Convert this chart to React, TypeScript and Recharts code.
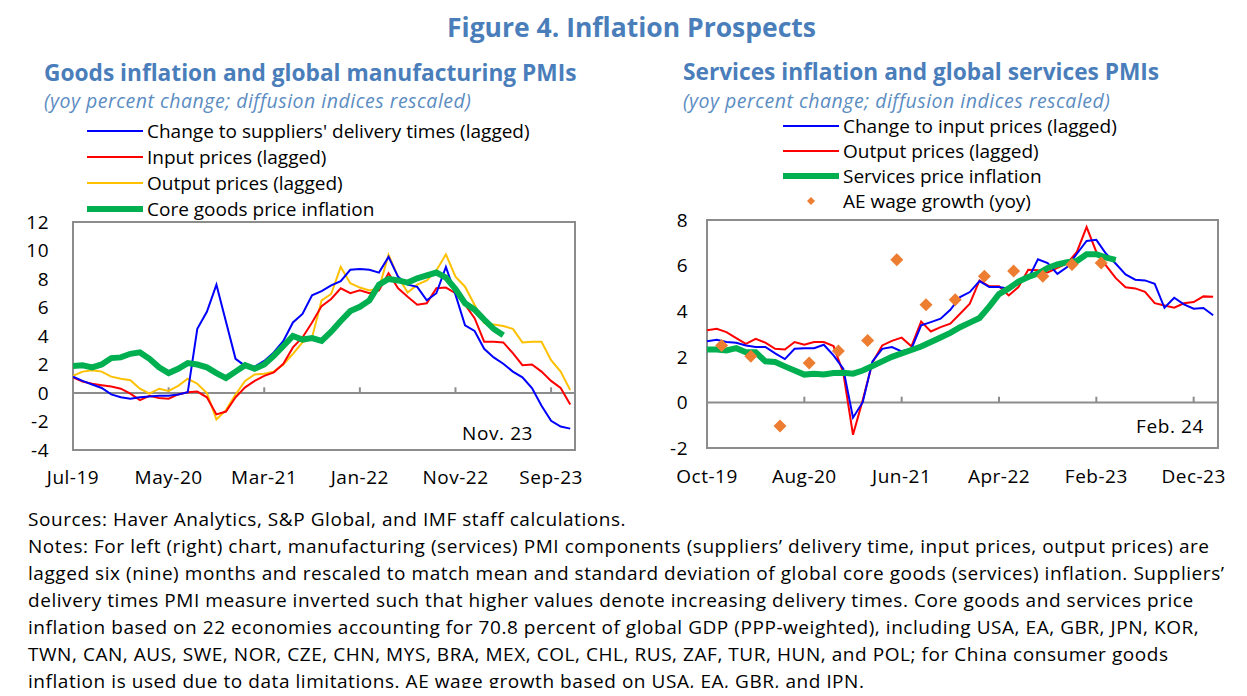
import React from 'react';
import {
    ComposedChart,
    Line,
    Scatter,
    XAxis,
    YAxis,
    ReferenceLine,
    ReferenceArea,
} from 'recharts';

// Left panel: monthly, Jul-19 .. Nov-23
const goodsTickLabels = ['Jul-19', 'May-20', 'Mar-21', 'Jan-22', 'Nov-22', 'Sep-23'];
const goodsDelivery = [
    1.15, 0.85, 0.6, 0.35, -0.1, -0.3, -0.4, -0.3, -0.25, -0.2, -0.2, -0.1, 0.05, 4.5, 5.7, 7.6, 5.0, 2.4,
    1.9, 1.85, 2.25, 2.85, 3.65, 4.95, 5.55, 6.85, 7.15, 7.55, 7.85, 8.65, 8.7, 8.65, 8.45, 9.55, 8.15,
    7.6, 7.45, 6.5, 7.0, 8.85, 6.9, 4.75, 4.35, 3.1, 2.5, 2.05, 1.5, 1.1, 0.35, -0.9, -1.95, -2.35, -2.5,
];
const goodsInput = [
    1.1, 0.8, 0.65, 0.55, 0.45, 0.3, -0.05, -0.5, -0.2, -0.35, -0.4, -0.1, 0.05, 0.1, -0.3, -1.5, -1.3, -0.3,
    0.4, 0.85, 1.2, 1.45, 2.05, 3.2, 3.9, 4.95, 6.1, 6.6, 7.35, 7.0, 7.2, 7.0, 7.2, 8.4, 7.35,
    6.75, 6.2, 6.3, 7.35, 7.4, 7.0, 6.2, 5.25, 3.6, 3.6, 3.55, 2.8, 1.95, 2.0, 1.5, 0.85, 0.35, -0.8,
];
const goodsOutput = [
    1.2, 1.5, 1.6, 1.5, 1.15, 1.0, 0.9, 0.3, -0.05, 0.3, 0.15, 0.5, 1.0, 0.65, 0.0, -1.85, -1.2, -0.1,
    0.85, 1.3, 1.35, 1.5, 2.0, 2.75, 3.55, 3.9, 6.5, 6.95, 8.85, 7.7, 7.4, 7.2, 7.35, 9.7, 8.15,
    7.05, 7.6, 7.9, 8.6, 9.73, 8.16, 7.46, 6.18, 4.9, 4.8, 4.7, 4.5, 3.55, 3.6, 3.6, 2.3, 1.5, 0.2,
];
const coreGoods = [
    1.9, 1.95, 1.8, 2.0, 2.45, 2.5, 2.75, 2.85, 2.4, 1.8, 1.4, 1.7, 2.1, 2.0, 1.8, 1.4, 1.05, 1.5,
    1.95, 1.7, 2.0, 2.6, 3.3, 4.0, 3.75, 3.85, 3.65, 4.3, 5.05, 5.75, 6.05, 6.5, 7.6, 8.0, 7.9,
    7.75, 8.05, 8.25, 8.45, 8.1, 7.3, 6.3, 5.85, 5.15, 4.5, 4.05,
];

// Right panel: monthly, Oct-19 .. Feb-24
const servicesTickLabels = ['Oct-19', 'Aug-20', 'Jun-21', 'Apr-22', 'Feb-23', 'Dec-23'];
const servicesInput = [
    2.68, 2.75, 2.65, 2.62, 2.5, 2.43, 2.43, 2.15, 1.9, 2.35, 2.38, 2.38, 2.53, 2.06, 1.48, -0.67, 0.01, 1.8,
    2.35, 2.43, 2.24, 2.35, 3.38, 3.52, 3.67, 4.06, 4.62, 4.84, 5.32, 5.06, 5.06, 4.99, 5.35, 5.42, 6.28,
    6.11, 5.64, 5.94, 6.52, 7.08, 7.13, 6.52, 6.08, 5.61, 5.38, 5.35, 5.2, 4.15, 4.59, 4.3, 4.11, 4.14, 3.82,
];
const servicesOutput = [
    3.16, 3.23, 3.08, 2.82, 2.57, 2.79, 2.62, 2.35, 2.32, 2.65, 2.53, 2.65, 2.65, 2.47, 1.3, -1.42, 0.1, 1.75,
    2.5, 2.7, 2.84, 2.46, 3.55, 3.11, 3.3, 3.45, 3.89, 4.33, 5.35, 5.09, 5.09, 4.69, 5.06, 5.82, 5.8,
    5.7, 5.9, 6.1, 6.6, 7.69, 6.6, 6.0, 5.45, 5.05, 5.0, 4.85, 4.35, 4.25, 4.15, 4.35, 4.4, 4.65, 4.63,
];
const servicesInflation = [
    2.32, 2.32, 2.28, 2.38, 2.2, 2.2, 1.8, 1.77, 1.58, 1.4, 1.22, 1.26, 1.22, 1.29, 1.3, 1.26, 1.4, 1.6,
    1.8, 2.0, 2.15, 2.3, 2.45, 2.65, 2.85, 3.05, 3.3, 3.5, 3.7, 4.2, 4.75, 5.0, 5.3, 5.5, 5.65,
    5.9, 6.05, 6.15, 6.2, 6.5, 6.5, 6.35, 6.25,
];
// quarterly, Q4-19 .. Q1-23
const wageGrowth = [2.5, 2.02, -1.04, 1.73, 2.25, 2.72, 6.26, 4.28, 4.5, 5.53, 5.76, 5.53, 6.05, 6.11];

const goodsData = goodsDelivery.map((v, i) => ({
    i,
    delivery: v,
    input: goodsInput[i],
    output: goodsOutput[i],
    core: coreGoods[i],
}));
const servicesData = servicesInput.map((v, i) => ({
    i,
    input: v,
    output: servicesOutput[i],
    services: servicesInflation[i],
}));
// plotted at mid-quarter (months since Oct-19)
const wageData = wageGrowth.map((w, k) => ({ i: 3 * k + 1.5, wage: w }));

const tickIdx = [0, 10, 20, 30, 40, 50];
const FONT = '"Open Sans", "Noto Sans", sans-serif';
const BOX = '#8c8c8c';
const TITLE = '#4a7ebb';
const SUB = '#5b8cc2';

const Diamond = (props: any) => {
    const { cx, cy } = props;
    const r = 6.5;
    return <polygon points={`${cx},${cy - r} ${cx + r},${cy} ${cx},${cy + r} ${cx - r},${cy}`} fill="#ed7d31" />;
};

const abs = (left: number, top: number, extra: React.CSSProperties = {}): React.CSSProperties => ({
    position: 'absolute',
    left,
    top,
    whiteSpace: 'nowrap',
    ...extra,
});

const LegendRow = ({ x, y, color, width, text, diamond }: any) => (
    <div style={abs(x, y - 13, { height: 26, display: 'flex', alignItems: 'center', fontSize: 19, lineHeight: '26px' })}>
        <svg width={56} height={26} style={{ marginRight: 4 }}>
            {diamond ? (
                <polygon points="28,9 32,13 28,17 24,13" fill="#ed7d31" />
            ) : (
                <line x1={0} y1={13} x2={56} y2={13} stroke={color} strokeWidth={width} strokeLinecap={width > 3 ? 'round' : 'butt'} />
            )}
        </svg>
        <span>{text}</span>
    </div>
);

const notes = [
    'Notes: For left (right) chart, manufacturing (services) PMI components (suppliers\u2019 delivery time, input prices, output prices) are',
    'lagged six (nine) months and rescaled to match mean and standard deviation of global core goods (services) inflation. Suppliers\u2019',
    'delivery times PMI measure inverted such that higher values denote increasing delivery times. Core goods and services price',
    'inflation based on 22 economies accounting for 70.8 percent of global GDP (PPP-weighted), including USA, EA, GBR, JPN, KOR,',
    'TWN, CAN, AUS, SWE, NOR, CZE, CHN, MYS, BRA, MEX, COL, CHL, RUS, ZAF, TUR, HUN, and POL; for China consumer goods',
    'inflation is used due to data limitations. AE wage growth based on USA, EA, GBR, and JPN.',
];

const tickStyle = { fill: '#000', fontSize: 19, fontFamily: FONT, letterSpacing: 0.5 };
const noteStyle: React.CSSProperties = { fontSize: 19, letterSpacing: 0.55, lineHeight: '26px' };

const App: React.FC = () => {
    return (
        <div style={{ position: 'relative', width: 1247, height: 696, margin: -8, overflow: 'hidden', background: '#fff', fontFamily: FONT, color: '#000' }}>
            <div style={abs(6, 5, { width: 1260, height: 720, border: '2px solid #000' })} />

            <div style={abs(447, 10, { fontSize: 26.5, fontWeight: 700, color: TITLE, lineHeight: '34px' })}>
                Figure 4. Inflation Prospects
            </div>

            <div style={abs(44, 58, { fontSize: 22.7, fontWeight: 700, color: TITLE, lineHeight: '30px' })}>
                Goods inflation and global manufacturing PMIs
            </div>
            <div style={abs(44, 88, { fontSize: 19.5, fontStyle: 'italic', color: SUB, lineHeight: '26px', letterSpacing: 0.5 })}>
                (yoy percent change; diffusion indices rescaled)
            </div>
            <div style={abs(683, 57, { fontSize: 22.7, fontWeight: 700, color: TITLE, lineHeight: '30px' })}>
                Services inflation and global services PMIs
            </div>
            <div style={abs(683, 88, { fontSize: 19.5, fontStyle: 'italic', color: SUB, lineHeight: '26px', letterSpacing: 0.5 })}>
                (yoy percent change; diffusion indices rescaled)
            </div>

            <LegendRow x={87} y={131} color="#0000ff" width={2} text="Change to suppliers' delivery times (lagged)" />
            <LegendRow x={87} y={157} color="#ff0000" width={2} text="Input prices (lagged)" />
            <LegendRow x={87} y={183} color="#ffc000" width={2} text="Output prices (lagged)" />
            <LegendRow x={87} y={209} color="#00b050" width={6} text="Core goods price inflation" />

            <LegendRow x={783} y={126} color="#0000ff" width={2} text="Change to input prices (lagged)" />
            <LegendRow x={783} y={151} color="#ff0000" width={2} text="Output prices (lagged)" />
            <LegendRow x={783} y={176} color="#00b050" width={6} text="Services price inflation" />
            <LegendRow x={783} y={201} diamond text="AE wage growth (yoy)" />

            <div style={abs(0, 200)}>
                <ComposedChart width={600} height={300} data={goodsData} margin={{ top: 22, right: 25, bottom: 20, left: 0 }}>
                    <XAxis
                        type="number"
                        dataKey="i"
                        domain={[0, 52.5]}
                        allowDataOverflow
                        ticks={tickIdx}
                        tickFormatter={(v: number) => goodsTickLabels[v / 10]}
                        axisLine={false}
                        tickLine={false}
                        tickSize={0}
                        tickMargin={21}
                        height={30}
                        tick={tickStyle}
                        interval={0}
                    />
                    <YAxis
                        type="number"
                        domain={[-4, 12]}
                        ticks={[-4, -2, 0, 2, 4, 6, 8, 10, 12]}
                        axisLine={false}
                        tickLine={false}
                        tickSize={0}
                        tickMargin={24}
                        width={73}
                        tick={tickStyle}
                        interval={0}
                    />
                    <ReferenceArea x1={0} x2={52.5} y1={-4} y2={12} fill="none" stroke={BOX} strokeWidth={2} />
                    <ReferenceLine y={0} stroke={BOX} strokeWidth={2} />
                    {tickIdx.slice(1).map((t) => (
                        <ReferenceLine key={t} segment={[{ x: t, y: 0 }, { x: t, y: 0.4 }]} stroke={BOX} strokeWidth={2} />
                    ))}
                    <Line dataKey="output" stroke="#ffc000" strokeWidth={2} dot={false} isAnimationActive={false} />
                    <Line dataKey="input" stroke="#ff0000" strokeWidth={2} dot={false} isAnimationActive={false} />
                    <Line dataKey="delivery" stroke="#0000ff" strokeWidth={2} dot={false} isAnimationActive={false} />
                    <Line dataKey="core" stroke="#00b050" strokeWidth={6} dot={false} isAnimationActive={false} />
                </ComposedChart>
            </div>
            <div style={abs(462, 420, { ...noteStyle, letterSpacing: 0.6 })}>Nov. 23</div>

            <div style={abs(620, 200)}>
                <ComposedChart width={620} height={300} data={servicesData} margin={{ top: 20, right: 22, bottom: 22, left: 0 }}>
                    <XAxis
                        type="number"
                        dataKey="i"
                        domain={[0, 52.5]}
                        allowDataOverflow
                        ticks={tickIdx}
                        tickFormatter={(v: number) => servicesTickLabels[v / 10]}
                        axisLine={false}
                        tickLine={false}
                        tickSize={0}
                        tickMargin={22}
                        height={30}
                        tick={tickStyle}
                        interval={0}
                    />
                    <YAxis
                        type="number"
                        domain={[-2, 8]}
                        ticks={[-2, 0, 2, 4, 6, 8]}
                        axisLine={false}
                        tickLine={false}
                        tickSize={0}
                        tickMargin={19}
                        width={87}
                        tick={tickStyle}
                        interval={0}
                    />
                    <ReferenceArea x1={0} x2={52.5} y1={-2} y2={8} fill="none" stroke={BOX} strokeWidth={2} />
                    <ReferenceLine y={0} stroke={BOX} strokeWidth={2} />
                    {tickIdx.slice(1).map((t) => (
                        <ReferenceLine key={t} segment={[{ x: t, y: 0 }, { x: t, y: 0.25 }]} stroke={BOX} strokeWidth={2} />
                    ))}
                    <Line dataKey="output" stroke="#ff0000" strokeWidth={2} dot={false} isAnimationActive={false} />
                    <Line dataKey="input" stroke="#0000ff" strokeWidth={2} dot={false} isAnimationActive={false} />
                    <Line dataKey="services" stroke="#00b050" strokeWidth={6} dot={false} isAnimationActive={false} />
                    <Scatter data={wageData} dataKey="wage" shape={Diamond} isAnimationActive={false} />
                </ComposedChart>
            </div>
            <div style={abs(1136, 413, { ...noteStyle, letterSpacing: 0.6 })}>Feb. 24</div>

            <div style={abs(28, 506, noteStyle)}>
                Sources: Haver Analytics, S&amp;P Global, and IMF staff calculations.
            </div>
            {notes.map((n, k) => (
                <div key={k} style={abs(28, 533 + 27 * k, noteStyle)}>
                    {n}
                </div>
            ))}
        </div>
    );
};

export default App;
